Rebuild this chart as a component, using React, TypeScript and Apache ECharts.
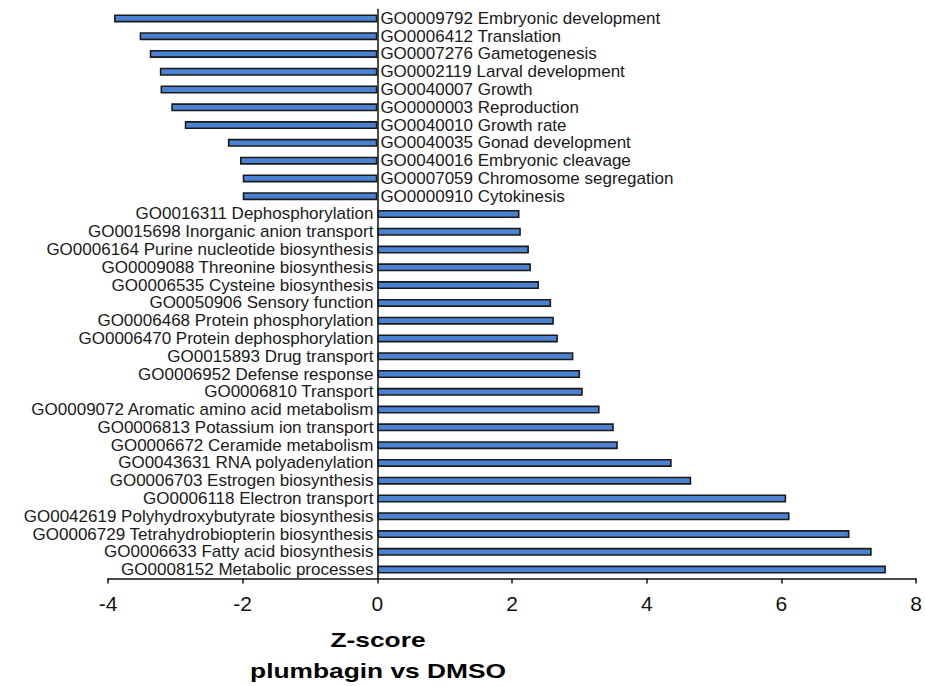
import React, { useEffect, useRef } from "react";
import * as echarts from "echarts";

const categories: string[] = [
  "GO0009792 Embryonic development",
  "GO0006412 Translation",
  "GO0007276 Gametogenesis",
  "GO0002119 Larval development",
  "GO0040007 Growth",
  "GO0000003 Reproduction",
  "GO0040010 Growth rate",
  "GO0040035 Gonad development",
  "GO0040016 Embryonic cleavage",
  "GO0007059 Chromosome segregation",
  "GO0000910 Cytokinesis",
  "GO0016311 Dephosphorylation",
  "GO0015698 Inorganic anion transport",
  "GO0006164 Purine nucleotide biosynthesis",
  "GO0009088 Threonine biosynthesis",
  "GO0006535 Cysteine biosynthesis",
  "GO0050906 Sensory function",
  "GO0006468 Protein phosphorylation",
  "GO0006470 Protein dephosphorylation",
  "GO0015893 Drug transport",
  "GO0006952 Defense response",
  "GO0006810 Transport",
  "GO0009072 Aromatic amino acid metabolism",
  "GO0006813 Potassium ion transport",
  "GO0006672 Ceramide metabolism",
  "GO0043631 RNA polyadenylation",
  "GO0006703 Estrogen biosynthesis",
  "GO0006118 Electron transport",
  "GO0042619 Polyhydroxybutyrate biosynthesis",
  "GO0006729 Tetrahydrobiopterin biosynthesis",
  "GO0006633 Fatty acid biosynthesis",
  "GO0008152 Metabolic processes",
];

const zScores: number[] = [
  -3.91, -3.53, -3.38, -3.23, -3.22, -3.06, -2.86, -2.22, -2.04, -2.0, -2.0,
  2.11, 2.13, 2.25, 2.28, 2.4, 2.58, 2.62, 2.68, 2.91, 3.01, 3.05,
  3.3, 3.51, 3.57, 4.37, 4.66, 6.07, 6.12, 7.01, 7.34, 7.55,
];

const xTicks = { min: -4, max: 8, interval: 2 };
const titleLines: string[] = ["Z-score", "plumbagin vs DMSO"];

export default function App() {
  const ref = useRef<HTMLDivElement>(null);
  useEffect(() => {
    if (!ref.current) return;
    const chart = echarts.init(ref.current, undefined, { renderer: "svg" });
    const labelFont = {
      fontFamily: "'Liberation Sans', Arial, sans-serif",
      fontSize: 17,
      lineHeight: 16,
      color: "#1a1a1a",
    };
    const data = zScores.map((v, i) => ({
      value: v,
      label: {
        show: true,
        position: v < 0 ? "right" : "left",
        distance: v < 0 ? 3 : 4,
        formatter: categories[i],
        ...labelFont,
      },
    }));
    chart.setOption({
      animation: false,
      backgroundColor: "#ffffff",
      grid: { left: 108, right: 7.5, top: 9.5, bottom: 107.5, containLabel: false },
      xAxis: {
        type: "value",
        min: xTicks.min,
        max: xTicks.max,
        interval: xTicks.interval,
        axisLine: { show: true, onZero: false, lineStyle: { color: "#111", width: 1.5 } },
        axisTick: { show: true, inside: false, length: 5, lineStyle: { color: "#111", width: 1.5 } },
        splitLine: { show: false },
        axisLabel: {
          fontFamily: "'Liberation Sans', Arial, sans-serif",
          fontSize: 21,
          color: "#111",
          margin: 14,
        },
      },
      yAxis: {
        type: "category",
        inverse: true,
        data: categories,
        axisLine: { show: true, onZero: true, lineStyle: { color: "#111", width: 1.5 } },
        axisTick: { show: false },
        axisLabel: { show: false },
        splitLine: { show: false },
      },
      series: [
        {
          type: "bar",
          data,
          barWidth: 8,
          itemStyle: { color: "#4b82d2", borderColor: "#1a1a1a", borderWidth: 1.6 },
          emphasis: { disabled: true },
        },
      ],
      graphic: [
        {
          type: "text",
          x: 378,
          y: 640,
          scaleX: 1.35,
          style: {
            text: titleLines[0],
            fontFamily: "'Liberation Sans', Arial, sans-serif",
            fontWeight: "bold",
            fontSize: 19.5,
            fill: "#000",
            textAlign: "center",
            textVerticalAlign: "middle",
          },
        },
        {
          type: "text",
          x: 378,
          y: 671,
          scaleX: 1.35,
          style: {
            text: titleLines[1],
            fontFamily: "'Liberation Sans', Arial, sans-serif",
            fontWeight: "bold",
            fontSize: 19.5,
            fill: "#000",
            textAlign: "center",
            textVerticalAlign: "middle",
          },
        },
      ],
    });
    return () => chart.dispose();
  }, []);
  return <div ref={ref} style={{ width: 925, height: 686, position: "absolute", left: 0, top: 0 }} />;
}
